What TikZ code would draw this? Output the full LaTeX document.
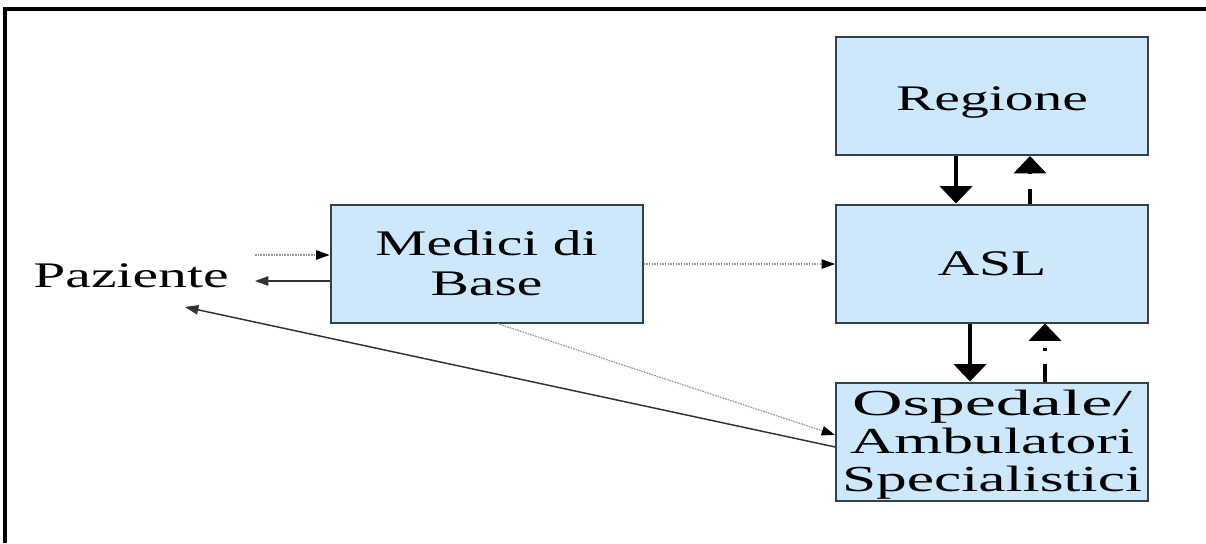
\documentclass[tikz,border=0pt]{standalone}
\usepackage{fontspec}
\setmainfont{Liberation Serif}[FakeStretch=1.6]
\newfontfamily\plainserif{Liberation Serif}
\usetikzlibrary{arrows.meta}
\definecolor{boxfill}{RGB}{204,232,250}
\definecolor{boxline}{RGB}{55,65,75}
\definecolor{dotline}{RGB}{150,150,150}
\definecolor{solidline}{RGB}{50,50,50}
% one line of text stretched sideways to a given width
\newcommand{\fitline}[2]{\resizebox{#1}{\height}{#2}}
\begin{document}
\begin{tikzpicture}[x=0.75pt,y=-0.75pt,
  entity/.style={draw=boxline,line width=1.5pt,fill=boxfill,
    minimum width=234pt,minimum height=88.5pt,inner sep=0pt,
    align=center,font=\fontsize{27}{30}\selectfont},
  label/.style={font=\fontsize{27}{30}\selectfont,inner sep=0pt},
  bigarrow/.style={line width=3pt,-{Triangle[width=24pt,length=13pt]}},
  smalltip/.style={-{Triangle[width=7pt,length=10pt]}},
  thinsolid/.style={solidline,line width=1.1pt,smalltip},
  thindotted/.style={dotline,line width=0.9pt,dash pattern=on 1.2pt off 0.8pt,
    -{Triangle[width=7pt,length=10pt,fill=black,color=black]}},
]
% canvas and frame
\useasboundingbox (0,0) rectangle (1206,543);
\fill[white] (0,0) rectangle (1206,543);
\draw[line width=2.3pt] (5,543) -- (5,9) -- (1206,9);

% boxes
\node[entity] (reg) at (992,96) {\raisebox{-5pt}[\height][\depth]{Regione}};
\node[entity] (asl) at (992,263.5) {ASL};
\node[entity] (med) at (486.5,263.5) {Medici di\\Base};
\node[entity,font=\plainserif\fontsize{27.5}{28.5}\selectfont] (osp) at (992,441.5)
  {\rule{0pt}{24pt}\fitline{210pt}{Ospedale/}\\\fitline{213pt}{Ambulatori}\\\fitline{225pt}{Specialistici}};
\node[label,anchor=base] (paz) at (131,287) {Paziente};

% free ends beside the patient
\coordinate (pzin)  at (255,255);
\coordinate (pzout) at (255,281);
\coordinate (pzdiag) at (185,307);

% patient <-> general practitioners
\draw[thindotted] (pzin) -- (med.west |- pzin);
\draw[thinsolid] (med.west |- pzout) -- (pzout);

% general practitioners -> ASL
\draw[thindotted] ([yshift=-0.4pt]med.east) -- ([yshift=-0.4pt]asl.west);

% general practitioners -> hospital
\draw[thindotted] ([xshift=8pt]med.south) -- ([yshift=4.9pt]osp.west);

% hospital -> patient
\draw[thinsolid] ([yshift=-4.1pt]osp.west) -- (pzdiag);

% Regione <-> ASL
\draw[bigarrow] ([xshift=-27pt]reg.south) -- ([xshift=-27pt]asl.north);
\draw[bigarrow,dash pattern=on 11pt off 11pt] ([xshift=28.5pt]asl.north) -- ([xshift=28.5pt]reg.south);

% ASL <-> hospital
\draw[bigarrow] ([xshift=-16.5pt]asl.south) -- ([xshift=-16.5pt]osp.north);
\draw[bigarrow,dash pattern=on 13pt off 10pt on 2.5pt off 5pt] ([xshift=39.75pt]osp.north) -- ([xshift=39.75pt]asl.south);
\end{tikzpicture}
\end{document}
